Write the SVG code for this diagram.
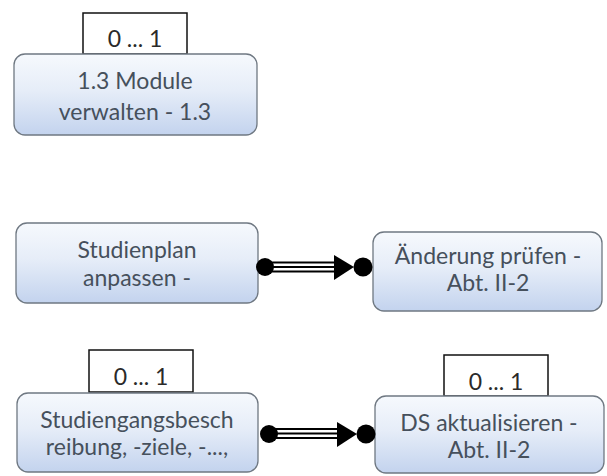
<svg xmlns="http://www.w3.org/2000/svg" width="607" height="476" viewBox="0 0 607 476">
  <defs>
    <linearGradient id="boxfill" x1="0" y1="0" x2="0" y2="1">
      <stop offset="0" stop-color="#f6f9fd"/>
      <stop offset="0.45" stop-color="#e6edf8"/>
      <stop offset="1" stop-color="#c3d3ee"/>
    </linearGradient>
  </defs>
  <style>
    .box { fill: url(#boxfill); stroke: #6f7882; stroke-width: 1.3; }
    .lbl { fill: #ffffff; stroke: #111; stroke-width: 1.5; }
    .txt { font-family: Lato, "Open Sans", "DejaVu Sans", sans-serif; font-size: 23px; fill: #46505c; text-anchor: middle; }
    .ltxt { font-family: Lato, "Open Sans", "DejaVu Sans", sans-serif; font-size: 23px; fill: #2a2a2a; text-anchor: middle; }
    .line { stroke: #000; stroke-width: 2; fill: none; }
    .dot { fill: #000; }
    .head { fill: #000; }
  </style>
  <rect width="607" height="476" fill="#ffffff"/>

  <g id="node-module">
    <rect class="lbl" x="83" y="13" width="104" height="41"/>
    <text class="ltxt" x="135" y="47">0 ... 1</text>
    <rect class="box" x="14" y="54" width="243" height="81" rx="11"/>
    <text class="txt" x="135" y="89">1.3 Module</text>
    <text class="txt" x="135" y="120">verwalten - 1.3</text>
  </g>

  <g id="node-studienplan">
    <rect class="box" x="16" y="223" width="242" height="80" rx="11"/>
    <text class="txt" x="137" y="258">Studienplan</text>
    <text class="txt" x="137" y="286">anpassen -</text>
  </g>

  <g id="node-aenderung">
    <rect class="box" x="373" y="232" width="229" height="79" rx="11"/>
    <text class="txt" x="488" y="264">Änderung prüfen -</text>
    <text class="txt" x="488" y="291">Abt. II-2</text>
  </g>

  <g id="node-studiengang">
    <rect class="lbl" x="89" y="350" width="104" height="42"/>
    <text class="ltxt" x="141" y="385">0 ... 1</text>
    <rect class="box" x="17" y="393" width="241" height="79" rx="11"/>
    <text class="txt" x="137" y="428">Studiengangsbesch</text>
    <text class="txt" x="137" y="455">reibung, -ziele, -...,</text>
  </g>

  <g id="node-ds">
    <rect class="lbl" x="444" y="355" width="104" height="41"/>
    <text class="ltxt" x="496" y="390">0 ... 1</text>
    <rect class="box" x="375" y="396" width="229" height="77" rx="11"/>
    <text class="txt" x="489" y="431">DS aktualisieren -</text>
    <text class="txt" x="489" y="458">Abt. II-2</text>
  </g>

  <g id="connectors">
    <g id="conn-1">
      <line class="line" x1="265" y1="262.5" x2="336" y2="262.5"/>
      <line class="line" x1="265" y1="267" x2="336" y2="267"/>
      <line class="line" x1="265" y1="271.5" x2="336" y2="271.5"/>
      <circle class="dot" cx="265" cy="267" r="9"/>
      <polygon class="head" points="334,255 354,267 334,280"/>
      <circle class="dot" cx="363" cy="267" r="9.5"/>
    </g>
    <g id="conn-2">
      <line class="line" x1="270" y1="429" x2="339" y2="429"/>
      <line class="line" x1="270" y1="433.5" x2="339" y2="433.5"/>
      <line class="line" x1="270" y1="438" x2="339" y2="438"/>
      <circle class="dot" cx="269" cy="434" r="9"/>
      <polygon class="head" points="337,422 357,434 337,447"/>
      <circle class="dot" cx="366" cy="434" r="9.5"/>
    </g>
  </g>
</svg>
